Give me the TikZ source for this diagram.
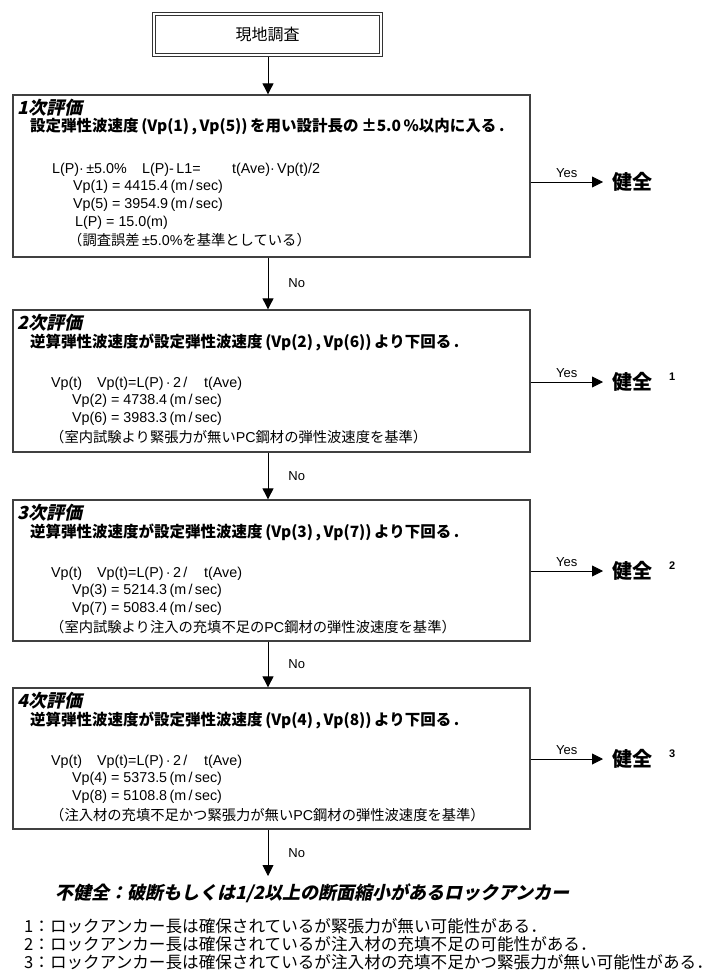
\documentclass[tikz,border=0pt]{standalone}
\usepackage{fontspec}
\setmainfont{Liberation Sans}
\newfontfamily\jp{Noto Sans CJK JP}
\newfontfamily\jpsl[FakeSlant=0.22]{Noto Sans CJK JP}
\usetikzlibrary{arrows.meta}
\tikzset{
  evalbox/.style={draw=black!75, line width=1.3pt, minimum width=517pt, inner sep=0},
  flow/.style={-{Triangle[length=11pt,width=11pt]}, line width=0.9pt},
  txt/.style={anchor=west, inner sep=0},
  ttl/.style={txt, font=\jpsl\bfseries\fontsize{18}{18}\selectfont},
  head/.style={txt, font=\jp\bfseries\fontsize{15.5}{15.5}\selectfont},
  body/.style={txt, font=\fontsize{14.3}{15}\selectfont},
  lab/.style={font=\fontsize{13}{13}\selectfont, inner sep=0},
  ok/.style={anchor=west, inner sep=0, font=\jp\bfseries\fontsize{20}{20}\selectfont},
  supnum/.style={anchor=west, inner sep=0, font=\bfseries\fontsize{11}{11}\selectfont},
  foot/.style={txt, font=\jp\fontsize{16.6}{16.6}\selectfont},
}
\newcommand{\J}[1]{{\jp #1}}
\begin{document}
\begin{tikzpicture}[x=1pt, y=-1pt]
\useasboundingbox (0,0) rectangle (717,976);
\coordinate (axis) at (268,0);

% top box (double frame)
\node[draw=black!80, line width=1.4pt, minimum width=230pt, minimum height=44pt,
      inner sep=0, font=\jp\fontsize{16}{16}\selectfont] (top) at (267.5,34.5) {現地調査};
\draw[black!80, line width=0.7pt] ([shift={(3.5,3.5)}]top.north west) rectangle ([shift={(-3.5,-3.5)}]top.south east);

% evaluation boxes
\node[evalbox, minimum height=162pt] (b1) at (271.5,176) {};
\node[evalbox, minimum height=142pt] (b2) at (271.5,381) {};
\node[evalbox, minimum height=141pt] (b3) at (271.5,570.5) {};
\node[evalbox, minimum height=141pt] (b4) at (271.5,758.5) {};

% box 1 texts
\node[ttl]  (t1) at (17,108) {1次評価};
\node[head] (h1) at (30,127) {設定弾性波速度\,(Vp(1)\,,\,Vp(5))\,を用い設計長の\,±5.0\,\%以内に入る\,.};
\node[body] (f1a) at (52,170) {L(P)·\,±5.0\%};
\node[body] (f1b) at (142,170) {L(P)-\,L1=};
\node[body] (f1c) at (232,170) {t(Ave)·\,Vp(t)/2};
\node[body] (v1a) at (73,187) {Vp(1) = 4415.4\,(m\,/\,sec)};
\node[body] (v1b) at (73,205) {Vp(5) = 3954.9\,(m\,/\,sec)};
\node[body] (l1)  at (75,223) {L(P) = 15.0(m)};
\node[body] (p1)  at (68,240) {\J{（調査誤差}\,±5.0\%\J{を基準としている）}};

% box 2 texts
\node[ttl]  (t2) at (17,323) {2次評価};
\node[head] (h2) at (30,342) {逆算弾性波速度が設定弾性波速度\,(Vp(2)\,,\,Vp(6))\,より下回る\,.};
\node[body] (f2a) at (51,384) {Vp(t)};
\node[body] (f2b) at (97,384) {Vp(t)=L(P)\,·\,2\,/};
\node[body] (f2c) at (204,384) {t(Ave)};
\node[body] (v2a) at (72,401) {Vp(2) = 4738.4\,(m\,/\,sec)};
\node[body] (v2b) at (72,419) {Vp(6) = 3983.3\,(m\,/\,sec)};
\node[body] (p2)  at (50,437) {\J{（室内試験より緊張力が無い}PC\J{鋼材の弾性波速度を基準）}};

% box 3 texts
\node[ttl]  (t3) at (17,513) {3次評価};
\node[head] (h3) at (30,532) {逆算弾性波速度が設定弾性波速度\,(Vp(3)\,,\,Vp(7))\,より下回る\,.};
\node[body] (f3a) at (51,574) {Vp(t)};
\node[body] (f3b) at (97,574) {Vp(t)=L(P)\,·\,2\,/};
\node[body] (f3c) at (204,574) {t(Ave)};
\node[body] (v3a) at (72,591) {Vp(3) = 5214.3\,(m\,/\,sec)};
\node[body] (v3b) at (72,609) {Vp(7) = 5083.4\,(m\,/\,sec)};
\node[body] (p3)  at (50,627) {\J{（室内試験より注入の充填不足の}PC\J{鋼材の弾性波速度を基準）}};

% box 4 texts
\node[ttl]  (t4) at (17,701) {4次評価};
\node[head] (h4) at (30,720) {逆算弾性波速度が設定弾性波速度\,(Vp(4)\,,\,Vp(8))\,より下回る\,.};
\node[body] (f4a) at (51,762) {Vp(t)};
\node[body] (f4b) at (97,762) {Vp(t)=L(P)\,·\,2\,/};
\node[body] (f4c) at (204,762) {t(Ave)};
\node[body] (v4a) at (72,779) {Vp(4) = 5373.5\,(m\,/\,sec)};
\node[body] (v4b) at (72,797) {Vp(8) = 5108.8\,(m\,/\,sec)};
\node[body] (p4)  at (50,815) {\J{（注入材の充填不足かつ緊張力が無い}PC\J{鋼材の弾性波速度を基準）}};

% results on the right
\node[ok] (ok1) at (612,182) {健全};
\node[ok] (ok2) at (612,382) {健全};
\node[supnum] (s2) at (669,377) {1};
\node[ok] (ok3) at (612,571) {健全};
\node[supnum] (s3) at (669,566) {2};
\node[ok] (ok4) at (612,759) {健全};
\node[supnum] (s4) at (669,754) {3};

% final result
\node[txt, font=\jpsl\bfseries\fontsize{18}{18}\selectfont] (ng) at (55,893) {不健全：破断もしくは1/2以上の断面縮小があるロックアンカー};
\coordinate (ngtop) at (268,876);

% footnotes
\node[foot] (n1) at (24,926) {1：ロックアンカー長は確保されているが緊張力が無い可能性がある．};
\node[foot] (n2) at (24,944) {2：ロックアンカー長は確保されているが注入材の充填不足の可能性がある．};
\node[foot] (n3) at (24,962) {3：ロックアンカー長は確保されているが注入材の充填不足かつ緊張力が無い可能性がある．};

% vertical connectors
\draw[flow] (top.south -| axis) -- (b1.north -| axis);
\draw[flow] (b1.south -| axis) -- node[lab, anchor=west, xshift=20pt] (no1) {No} (b2.north -| axis);
\draw[flow] (b2.south -| axis) -- node[lab, anchor=west, xshift=20pt] (no2) {No} (b3.north -| axis);
\draw[flow] (b3.south -| axis) -- node[lab, anchor=west, xshift=20pt] (no3) {No} (b4.north -| axis);
\draw[flow] (b4.south -| axis) -- node[lab, anchor=west, xshift=20pt] (no4) {No} (ngtop);

% yes connectors
\draw[flow] (b1.east |- ok1.west) -- node[lab, above=4pt] (y1) {Yes} ([xshift=-9pt]ok1.west);
\draw[flow] (b2.east |- ok2.west) -- node[lab, above=4pt] (y2) {Yes} ([xshift=-9pt]ok2.west);
\draw[flow] (b3.east |- ok3.west) -- node[lab, above=4pt] (y3) {Yes} ([xshift=-9pt]ok3.west);
\draw[flow] (b4.east |- ok4.west) -- node[lab, above=4pt] (y4) {Yes} ([xshift=-9pt]ok4.west);
\end{tikzpicture}
\end{document}
